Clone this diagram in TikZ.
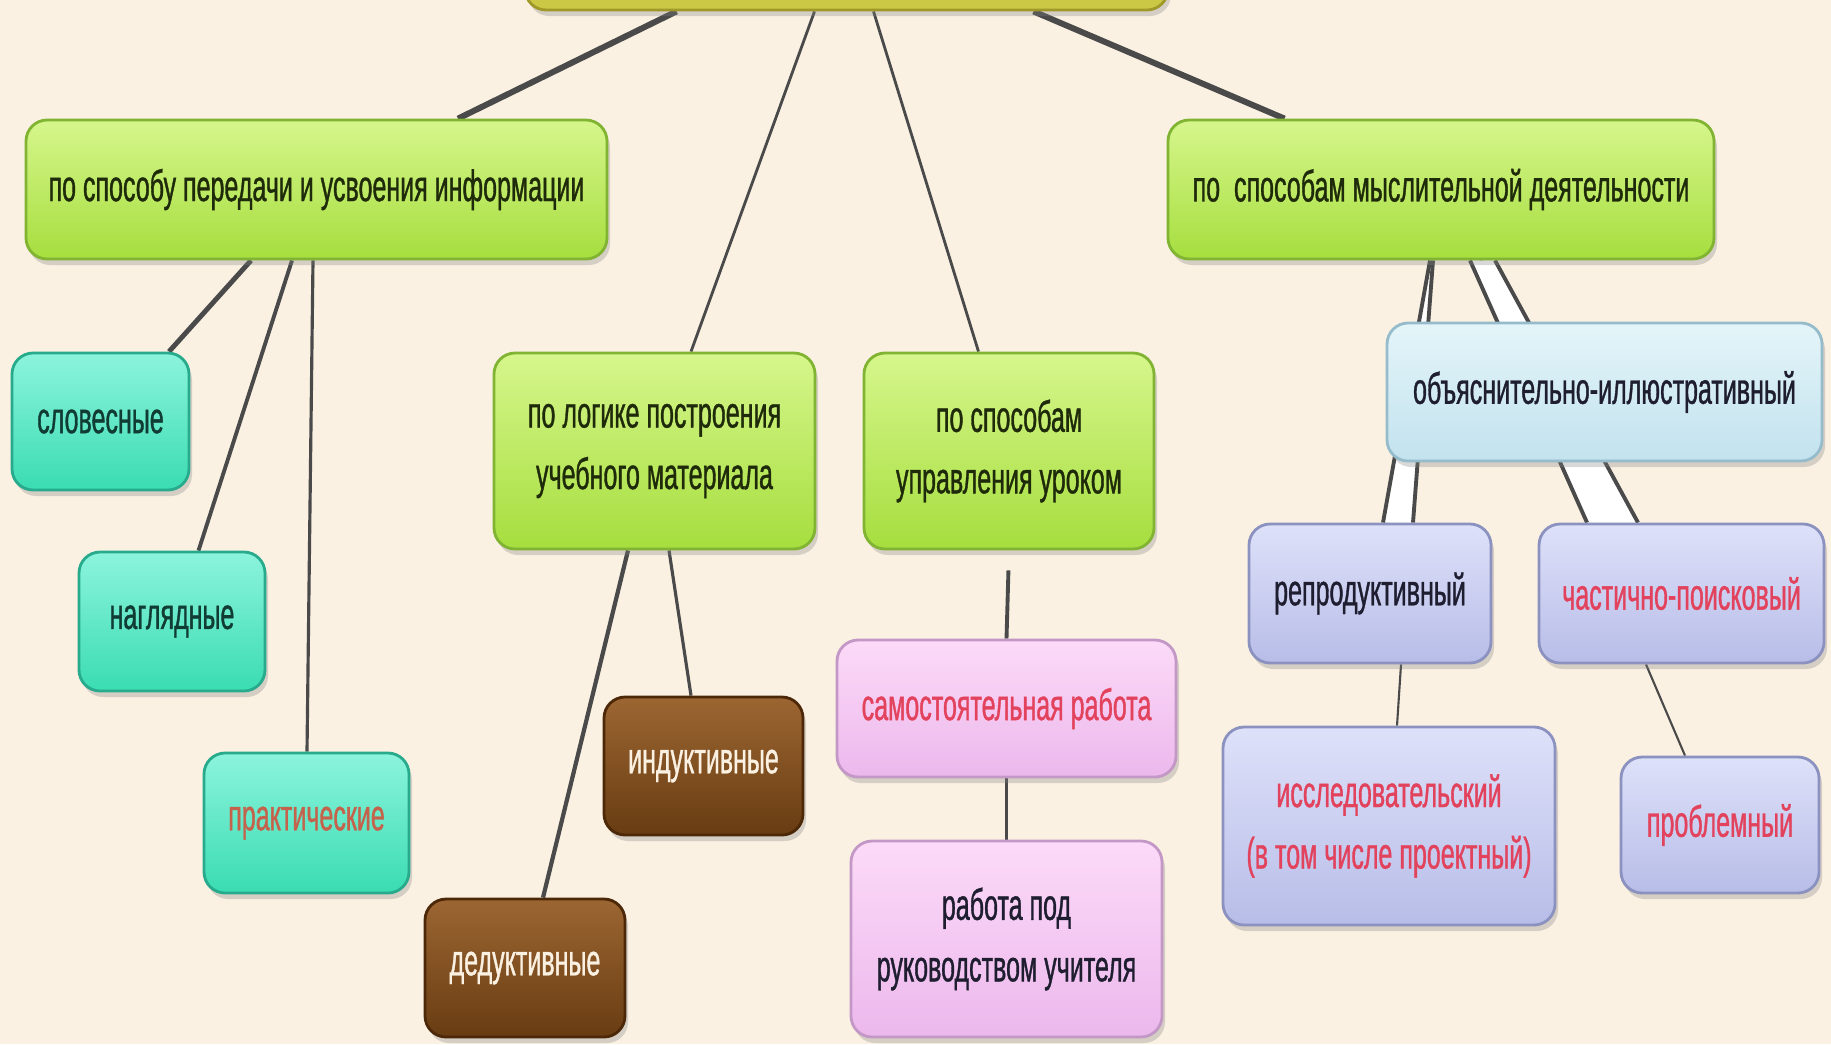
\documentclass[tikz,border=0pt]{standalone}
\usepackage{fontspec}
\setmainfont{Liberation Sans}[FakeStretch=0.57,FakeBold=0.8]
\usetikzlibrary{shadows}
\definecolor{fond}{RGB}{250,241,226}
\definecolor{gris}{RGB}{74,74,74}
\definecolor{olive}{RGB}{203,200,70}
\definecolor{oliveD}{RGB}{160,152,40}
\definecolor{vertH}{RGB}{214,246,140}
\definecolor{vertB}{RGB}{166,222,62}
\definecolor{vertD}{RGB}{128,180,50}
\definecolor{vertT}{RGB}{30,42,10}
\definecolor{turqH}{RGB}{140,244,220}
\definecolor{turqB}{RGB}{58,220,178}
\definecolor{turqD}{RGB}{40,170,140}
\definecolor{turqT}{RGB}{16,60,52}
\definecolor{brunH}{RGB}{156,102,50}
\definecolor{brunB}{RGB}{104,60,18}
\definecolor{brunD}{RGB}{76,40,8}
\definecolor{roseH}{RGB}{252,218,248}
\definecolor{roseB}{RGB}{236,184,236}
\definecolor{roseD}{RGB}{196,152,198}
\definecolor{bleuH}{RGB}{228,245,249}
\definecolor{bleuB}{RGB}{194,226,238}
\definecolor{bleuD}{RGB}{150,188,204}
\definecolor{lavH}{RGB}{222,225,249}
\definecolor{lavB}{RGB}{184,189,232}
\definecolor{lavD}{RGB}{140,146,192}
\definecolor{rouge}{RGB}{226,66,92}
\definecolor{brique}{RGB}{196,98,76}
\definecolor{sombre}{RGB}{30,30,48}
\pgfdeclarelayer{dessous}
\pgfsetlayers{dessous,main}
\tikzset{
boite/.style={rounded corners=6pt, line width=0.8pt, align=center, inner sep=0pt,
  font=\fontsize{12.5}{17.5}\selectfont,
  drop shadow={opacity=0.3,shadow xshift=0.03cm,shadow yshift=-0.06cm}},
vert/.style={boite, top color=vertH, bottom color=vertB, draw=vertD, text=vertT},
turq/.style={boite, top color=turqH, bottom color=turqB, draw=turqD, text=turqT},
brun/.style={boite, top color=brunH, bottom color=brunB, draw=brunD, text=fond},
rose/.style={boite, top color=roseH, bottom color=roseB, draw=roseD, text=sombre},
bleu/.style={boite, top color=bleuH, bottom color=bleuB, draw=bleuD, text=sombre},
lav/.style={boite, top color=lavH, bottom color=lavB, draw=lavD, text=sombre},
lien/.style={draw=gris, line width=#1}, lien/.default=1pt
}
\begin{document}
\begin{tikzpicture}
\useasboundingbox (0,0) rectangle (18.31,-10.44);
\clip (0,0) rectangle (18.31,-10.44);
\node [boite, fill=olive, draw=oliveD, minimum width=6.43cm, minimum height=0.6cm] (root) at (8.465,0.2) {};
\node [vert, minimum width=5.81cm, minimum height=1.39cm] (peredacha) at (3.165,-1.895) {по способу передачи и усвоения информации};
\node [vert, minimum width=3.21cm, minimum height=1.96cm] (logika) at (6.545,-4.51) {по логике построения\\учебного материала};
\node [vert, minimum width=2.90cm, minimum height=1.96cm] (upravlenie) at (10.09,-4.51) {по способам\\управления уроком};
\node [vert, minimum width=5.46cm, minimum height=1.39cm] (myshlenie) at (14.41,-1.895) {по\ \ способам мыслительной деятельности};
\node [turq, minimum width=1.77cm, minimum height=1.37cm] (slovesnye) at (1.005,-4.215) {словесные};
\node [turq, minimum width=1.86cm, minimum height=1.39cm] (naglyadnye) at (1.72,-6.215) {наглядные};
\node [turq, text=brique, minimum width=2.05cm, minimum height=1.40cm] (prakticheskie) at (3.065,-8.23) {практические};
\node [brun, minimum width=1.99cm, minimum height=1.38cm] (induktivnye) at (7.035,-7.66) {индуктивные};
\node [brun, minimum width=2.00cm, minimum height=1.38cm] (deduktivnye) at (5.25,-9.68) {дедуктивные};
\node [rose, text=rouge, minimum width=3.39cm, minimum height=1.37cm] (samostoyat) at (10.065,-7.085) {самостоятельная работа};
\node [rose, minimum width=3.11cm, minimum height=1.96cm] (rukovod) at (10.065,-9.39) {работа под\\руководством учителя};
\node [bleu, minimum width=4.35cm, minimum height=1.38cm] (obyasnit) at (16.045,-3.92) {объяснительно-иллюстративный};
\node [lav, minimum width=2.42cm, minimum height=1.39cm] (reprod) at (13.70,-5.935) {репродуктивный};
\node [lav, text=rouge, minimum width=2.85cm, minimum height=1.39cm] (chastichno) at (16.815,-5.935) {частично-поисковый};
\node [lav, text=rouge, minimum width=3.32cm, minimum height=1.98cm] (issled) at (13.89,-8.26) {исследовательский\\(в том числе проектный)};
\node [lav, text=rouge, minimum width=1.98cm, minimum height=1.36cm] (problem) at (17.20,-8.25) {проблемный};
\begin{pgfonlayer}{dessous}
\fill [fond] (0,0) rectangle (18.31,-10.44);
\foreach \a/\da/\b/\db/\w in {root/-1.70/peredacha/1.415/1.7, root/-0.32/logika/0.365/0.8, root/0.27/upravlenie/-0.305/0.8, root/1.87/myshlenie/-1.565/1.7, peredacha/-0.655/slovesnye/0.685/1.4, peredacha/-0.245/naglyadnye/0.265/1.1, peredacha/-0.035/prakticheskie/0.005/0.9, logika/0.145/induktivnye/-0.125/0.9, logika/-0.265/deduktivnye/0.18/1.2, reprod/0.31/issled/0.08/0.6, chastichno/-0.355/problem/-0.35/0.6, myshlenie/0.39/obyasnit/-0.865/1.1}
 {\draw [lien=\w pt] ([xshift=\da cm]\a.south)--([xshift=\db cm]\b.north);}
\draw [lien=1.1pt, shorten <=0.2cm] (upravlenie.south)--(samostoyat.north);
\draw [lien=0.8pt] (samostoyat.south)--(rukovod.north);
\fill [white] ([xshift=-0.11cm]myshlenie.south)--([xshift=-0.08cm]myshlenie.south)--([xshift=0.43cm]reprod.north)--([xshift=0.13cm]reprod.north)--cycle;
\draw [lien=1.1pt] ([xshift=-0.11cm]myshlenie.south)--([xshift=0.13cm]reprod.north);
\draw [lien=1.1pt] ([xshift=-0.08cm]myshlenie.south)--([xshift=0.43cm]reprod.north);
\fill [white] ([xshift=0.29cm]myshlenie.south)--([xshift=0.54cm]myshlenie.south)--([xshift=-0.435cm]chastichno.north)--([xshift=-0.945cm]chastichno.north)--cycle;
\draw [lien=1.1pt] ([xshift=0.29cm]myshlenie.south)--([xshift=-0.945cm]chastichno.north);
\draw [lien=1.1pt] ([xshift=0.54cm]myshlenie.south)--([xshift=-0.435cm]chastichno.north);
\end{pgfonlayer}
\end{tikzpicture}
\end{document}
